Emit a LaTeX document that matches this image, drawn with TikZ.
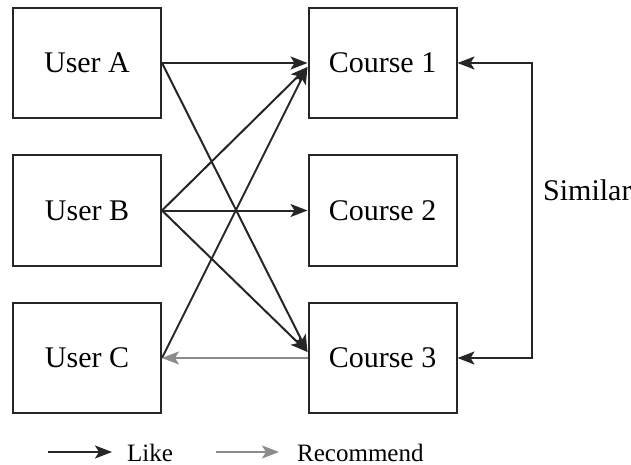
\documentclass[tikz,border=0pt]{standalone}
\usepackage{fontspec}
\setmainfont{Liberation Serif}
\usetikzlibrary{arrows.meta,calc}
\definecolor{linec}{HTML}{262626}
\definecolor{recc}{HTML}{8C8C8C}
\tikzset{
  tip/.tip={Stealth[length=17pt,width=13pt,inset=4pt]},
  box/.style={draw=linec, line width=2pt, minimum width=148pt, minimum height=110pt, inner sep=0pt, font=\fontsize{30}{32}\selectfont},
  like/.style={draw=linec, line width=2pt, -tip},
  rec/.style={draw=recc, line width=2pt, -tip},
  legtext/.style={font=\fontsize{25}{27}\selectfont, inner sep=0pt, anchor=base west},
}
\begin{document}
\begin{tikzpicture}[x=1pt,y=-1pt]
\useasboundingbox[fill=white] (0,0) rectangle (631,465);
\node[box] (ua) at (87,63) {User A};
\node[box] (ub) at (87,210.5) {User B};
\node[box] (uc) at (87,358) {User C};
\node[box] (c1) at (382.5,63) {Course 1};
\node[box] (c2) at (382.5,210.5) {Course 2};
\node[box] (c3) at (382.5,358) {Course 3};
\coordinate (c1in) at ($(c1.west)+(0,4)$);
\coordinate (c3in) at ($(c3.west)+(0,-6)$);
\draw[like] (ua.east) -- (c1.west);
\draw[like] (ua.east) -- (c3in);
\draw[like] (ub.east) -- (c1in);
\draw[like] (ub.east) -- (c2.west);
\draw[like] (ub.east) -- (c3in);
\draw[like] (uc.east) -- (c1in);
\draw[rec] (c3.west) -- (uc.east);
\draw[like, tip-tip] (c1.east) -- ++(74,0) coordinate (s1) |- (c3.east);
\node[anchor=west, inner sep=0pt, font=\fontsize{30}{32}\selectfont] (sim) at (543,190) {Similar};
\coordinate (l1a) at (48,452);
\coordinate (l1b) at (112,452);
\draw[like] (l1a) -- (l1b);
\node[legtext] (liket) at (127,461) {Like};
\coordinate (l2a) at (216,452);
\coordinate (l2b) at (279,452);
\draw[rec] (l2a) -- (l2b);
\node[legtext] (rect) at (297,461) {Recommend};
\end{tikzpicture}
\end{document}
